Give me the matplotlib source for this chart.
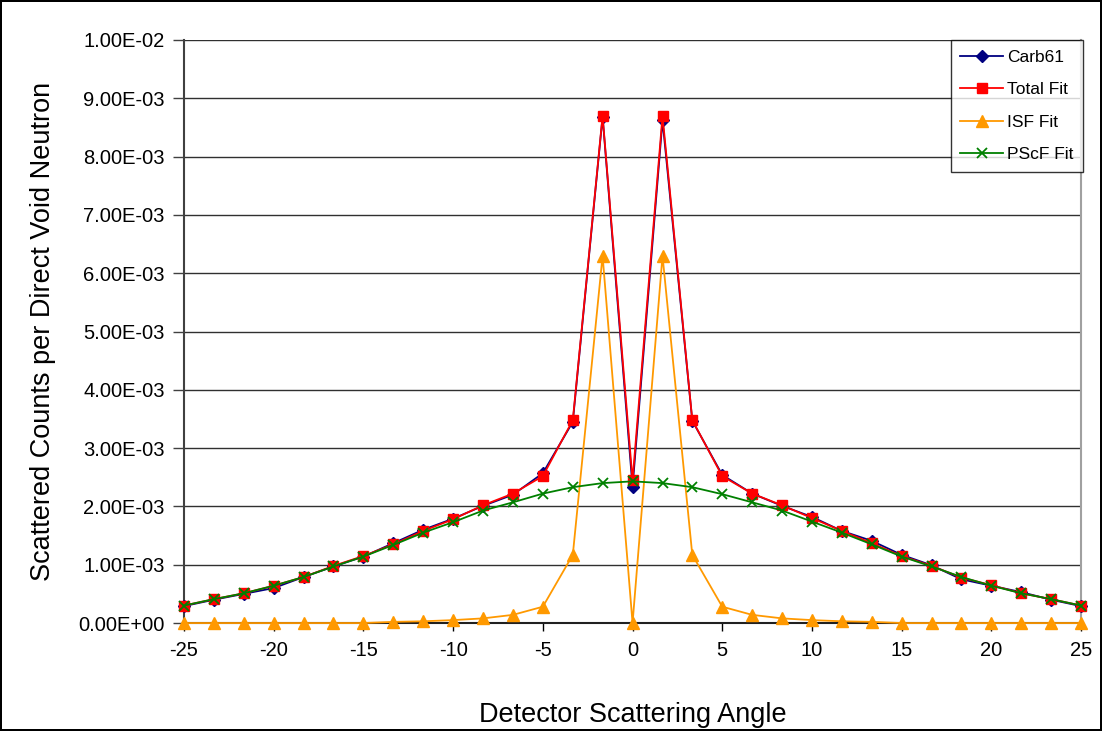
import matplotlib
matplotlib.use("Agg")
import matplotlib.pyplot as plt
import numpy as np

plt.rcParams['font.family'] = ['Liberation Sans', 'DejaVu Sans']

angles = [-25, -23.33, -21.67, -20, -18.33, -16.67, -15, -13.33, -11.67, -10, -8.33, -6.67, -5, -3.33, -1.67,
          0, 1.67, 3.33, 5, 6.67, 8.33, 10, 11.67, 13.33, 15, 16.67, 18.33, 20, 21.67, 23.33, 25]

carb61 = [0.29e-3, 0.40e-3, 0.50e-3, 0.60e-3, 0.79e-3, 0.97e-3, 1.14e-3, 1.37e-3, 1.60e-3, 1.79e-3, 2.01e-3, 2.20e-3, 2.57e-3, 3.45e-3, 8.68e-3,
          2.33e-3, 8.62e-3, 3.47e-3, 2.54e-3, 2.22e-3, 2.01e-3, 1.82e-3, 1.58e-3, 1.41e-3, 1.17e-3, 0.99e-3, 0.75e-3, 0.64e-3, 0.53e-3, 0.40e-3, 0.29e-3]

total_fit = [0.30e-3, 0.41e-3, 0.51e-3, 0.64e-3, 0.79e-3, 0.98e-3, 1.15e-3, 1.35e-3, 1.58e-3, 1.78e-3, 2.02e-3, 2.22e-3, 2.52e-3, 3.48e-3, 8.70e-3,
             2.45e-3, 8.70e-3, 3.48e-3, 2.52e-3, 2.22e-3, 2.02e-3, 1.80e-3, 1.58e-3, 1.37e-3, 1.15e-3, 0.98e-3, 0.78e-3, 0.65e-3, 0.51e-3, 0.41e-3, 0.30e-3]

isf_fit = [0.0, 0.0, 0.0, 0.0, 0.0, 0.0, 0.0, 0.02e-3, 0.03e-3, 0.05e-3, 0.08e-3, 0.14e-3, 0.28e-3, 1.17e-3, 6.30e-3,
           0.0, 6.30e-3, 1.17e-3, 0.28e-3, 0.14e-3, 0.08e-3, 0.05e-3, 0.03e-3, 0.02e-3, 0.0, 0.0, 0.0, 0.0, 0.0, 0.0, 0.0]

pscf_fit = [0.30e-3, 0.41e-3, 0.51e-3, 0.64e-3, 0.79e-3, 0.97e-3, 1.14e-3, 1.34e-3, 1.55e-3, 1.73e-3, 1.93e-3, 2.07e-3, 2.22e-3, 2.33e-3, 2.40e-3,
            2.43e-3, 2.40e-3, 2.33e-3, 2.21e-3, 2.07e-3, 1.93e-3, 1.74e-3, 1.55e-3, 1.35e-3, 1.14e-3, 0.97e-3, 0.79e-3, 0.64e-3, 0.51e-3, 0.41e-3, 0.30e-3]

x_ticks = [-25, -20, -15, -10, -5, 0, 5, 10, 15, 20, 25]
y_ticks = [i * 1e-3 for i in range(11)]
y_tick_labels = ['0.00E+00', '1.00E-03', '2.00E-03', '3.00E-03', '4.00E-03', '5.00E-03',
                 '6.00E-03', '7.00E-03', '8.00E-03', '9.00E-03', '1.00E-02']

fig = plt.figure(figsize=(11.02, 7.31), dpi=100)
fig.patch.set_edgecolor('black')
fig.patch.set_linewidth(1.5)
ax = fig.add_axes([0.167, 0.1477, 0.814, 0.7976])

ax.plot(angles, carb61, color='#000080', marker='D', markersize=6.5, lw=1.3, label='Carb61', zorder=3, clip_on=False)
ax.plot(angles, total_fit, color='#FF0000', marker='s', markersize=7.5, lw=1.3, label='Total Fit', zorder=4, clip_on=False)
ax.plot(angles, isf_fit, color='#FF9900', marker='^', markersize=8.5, lw=1.3, label='ISF Fit', zorder=5, clip_on=False)
ax.plot(angles, pscf_fit, color='#008000', marker='x', markersize=7.5, mew=1.3, lw=1.3, label='PScF Fit', zorder=6, clip_on=False)

ax.set_xlim(-25, 25)
ax.set_ylim(0, 1e-2)
ax.set_xticks(x_ticks)
ax.set_xticklabels([str(t) for t in x_ticks], fontsize=14.5)
ax.set_yticks(y_ticks)
ax.set_yticklabels(y_tick_labels, fontsize=14.5)
ax.tick_params(axis='x', direction='out', length=6, width=1, color='black', pad=7)
ax.tick_params(axis='y', direction='out', length=8, width=1, color='#404040', pad=6)

ax.grid(axis='y', color='#303030', lw=1.0, zorder=0)
ax.set_axisbelow(True)

ax.spines['top'].set_visible(False)
ax.spines['right'].set_color('#a0a0a0')
ax.spines['right'].set_linewidth(1.5)
ax.spines['left'].set_color('#404040')
ax.spines['left'].set_linewidth(1.5)
ax.spines['bottom'].set_color('#202020')
ax.spines['bottom'].set_linewidth(1.5)

ax.set_xlabel('Detector Scattering Angle', fontsize=19.5, labelpad=30)
ax.set_ylabel('Scattered Counts per Direct Void Neutron', fontsize=19.5, labelpad=16)

leg = ax.legend(loc='upper right', bbox_to_anchor=(1.002, 1.0), fontsize=12.5, frameon=True, fancybox=False,
                edgecolor='black', borderaxespad=0, handlelength=2.5, labelspacing=1.0,
                borderpad=0.55, handletextpad=0.2)
leg.get_frame().set_linewidth(1.0)

fig.savefig('out.png', dpi=100)
